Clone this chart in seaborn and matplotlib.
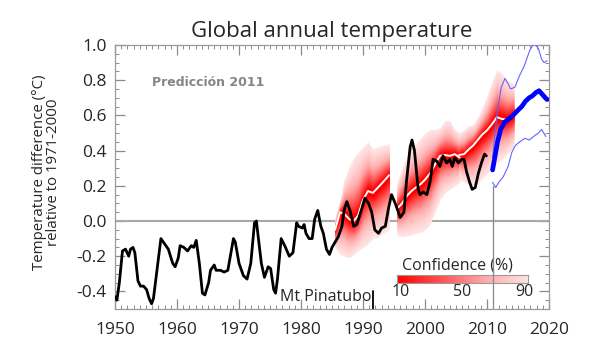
import numpy as np
import matplotlib
matplotlib.use("Agg")
import matplotlib.pyplot as plt
from matplotlib.colors import LinearSegmentedColormap
from matplotlib.ticker import MultipleLocator
import seaborn as sns

# observed global temperature (smoothed), anomaly vs 1971-2000
obs_years = [1950.0, 1950.3, 1950.7, 1951.2, 1951.7, 1952.2, 1952.5, 1952.9, 1953.2, 1953.7,
             1954.1, 1954.6, 1955.1, 1955.5, 1955.9, 1956.2, 1956.8, 1957.4, 1958.0, 1958.6,
             1959.3, 1959.7, 1960.2, 1960.5, 1961.1, 1961.7, 1962.3, 1962.7, 1963.1, 1963.6,
             1964.1, 1964.5, 1965.1, 1965.4, 1966.0, 1966.3, 1967.0, 1967.6, 1968.2, 1968.5,
             1969.1, 1969.4, 1970.0, 1970.7, 1971.3, 1971.9, 1972.5, 1972.8, 1973.1, 1973.6,
             1974.1, 1974.7, 1975.1, 1975.6, 1975.9, 1976.2, 1976.8, 1977.5, 1978.1, 1978.7,
             1979.3, 1979.6, 1980.2, 1980.5, 1980.8, 1981.3, 1981.8, 1982.2, 1982.7, 1983.2,
             1983.6, 1984.1, 1984.6, 1985.0, 1985.5, 1986.0, 1986.6, 1987.0, 1987.4, 1987.9,
             1988.5, 1989.0, 1989.8, 1990.3, 1990.9, 1991.4, 1991.9, 1992.5, 1993.0, 1993.6,
             1994.1, 1994.6, 1995.2, 1996.0, 1996.6, 1997.0, 1997.6, 1997.9, 1998.3, 1998.9,
             1999.2, 1999.7, 2000.3, 2000.8, 2001.3, 2001.9, 2002.4, 2002.9, 2003.5, 2004.0,
             2004.4, 2004.8, 2005.4, 2005.9, 2006.3, 2006.7, 2007.2, 2007.6, 2008.1, 2008.6,
             2009.1, 2009.6, 2009.9]
obs_temp = [-0.43, -0.45, -0.35, -0.17, -0.16, -0.20, -0.16, -0.15, -0.18, -0.34,
            -0.37, -0.37, -0.39, -0.44, -0.47, -0.44, -0.27, -0.10, -0.13, -0.16,
            -0.24, -0.26, -0.21, -0.14, -0.15, -0.17, -0.14, -0.15, -0.11, -0.24,
            -0.41, -0.42, -0.35, -0.28, -0.25, -0.28, -0.28, -0.29, -0.28, -0.22,
            -0.10, -0.12, -0.24, -0.31, -0.33, -0.24, -0.01, 0.00, -0.09, -0.24,
            -0.32, -0.26, -0.27, -0.39, -0.41, -0.33, -0.10, -0.15, -0.20, -0.18,
            -0.01, -0.03, -0.04, -0.02, -0.07, -0.10, -0.10, 0.01, 0.06, -0.03,
            -0.07, -0.16, -0.19, -0.15, -0.12, -0.09, -0.03, 0.07, 0.11, 0.06,
            -0.03, -0.02, 0.07, 0.13, 0.10, 0.05, -0.05, -0.07, -0.04, -0.03,
            0.07, 0.15, 0.10, 0.02, 0.05, 0.22, 0.42, 0.46, 0.40, 0.18,
            0.15, 0.165, 0.15, 0.22, 0.35, 0.34, 0.31, 0.37, 0.33, 0.35,
            0.31, 0.36, 0.33, 0.35, 0.35, 0.28, 0.22, 0.18, 0.19, 0.27,
            0.33, 0.38, 0.37]

# hindcasts: ensemble mean and 90% range
hc1_years = [1985.5, 1986.3, 1987.0, 1987.8, 1988.5, 1989.2, 1990.0, 1990.8, 1991.6, 1992.4, 1993.2, 1994.2]
hc1_mean = [-0.05, 0.05, 0.04, 0.01, 0.00, 0.03, 0.12, 0.17, 0.16, 0.19, 0.22, 0.26]
hc1_upper = [0.02, 0.12, 0.24, 0.31, 0.36, 0.39, 0.42, 0.45, 0.41, 0.42, 0.43, 0.44]
hc1_lower = [-0.15, -0.19, -0.20, -0.21, -0.19, -0.17, -0.15, -0.13, -0.10, -0.09, -0.07, -0.05]

hc2_years = [1995.5, 1996.3, 1997.0, 1997.8, 1998.5, 1999.3, 2000.0, 2000.8, 2001.6, 2002.4, 2003.2, 2004.0, 2004.8, 2005.6]
hc2_mean = [0.07, 0.10, 0.14, 0.17, 0.19, 0.21, 0.235, 0.27, 0.32, 0.37, 0.375, 0.37, 0.38, 0.36]
hc2_upper = [0.22, 0.30, 0.36, 0.42, 0.44, 0.47, 0.50, 0.52, 0.52, 0.53, 0.57, 0.57, 0.52, 0.50]
hc2_lower = [-0.08, -0.09, -0.085, -0.08, -0.07, -0.065, -0.05, -0.02, 0.05, 0.12, 0.16, 0.18, 0.20, 0.22]

hc3_years = [2005.5, 2006.3, 2007.0, 2007.8, 2008.5, 2009.2, 2010.0, 2010.8, 2011.6, 2012.4, 2013.2, 2014.3]
hc3_mean = [0.375, 0.38, 0.405, 0.43, 0.46, 0.49, 0.515, 0.55, 0.59, 0.58, 0.575, 0.60]
hc3_upper = [0.50, 0.52, 0.54, 0.55, 0.59, 0.64, 0.71, 0.79, 0.86, 0.84, 0.80, 0.78]
hc3_lower = [0.24, 0.22, 0.21, 0.20, 0.21, 0.24, 0.27, 0.30, 0.33, 0.35, 0.38, 0.42]

# 2011 forecast
fc_years = [2010.9, 2011.3, 2011.7, 2012.2, 2012.8, 2013.5, 2014.2, 2015.0, 2015.6, 2016.2,
            2016.8, 2017.3, 2017.9, 2018.4, 2018.9, 2019.4, 2019.7]
fc_mean = [0.29, 0.37, 0.45, 0.52, 0.56, 0.58, 0.60, 0.63, 0.65, 0.68,
           0.70, 0.71, 0.73, 0.74, 0.72, 0.70, 0.69]
fc_up_years = [2010.9, 2011.3, 2011.7, 2012.3, 2012.9, 2013.4, 2013.8, 2014.5, 2015.3, 2016.0,
               2016.9, 2017.6, 2018.3, 2018.8, 2019.2, 2019.7]
fc_upper = [0.36, 0.50, 0.63, 0.76, 0.81, 0.78, 0.75, 0.76, 0.83, 0.88,
            0.97, 1.01, 0.98, 0.92, 0.90, 0.91]
fc_lo_years = [2010.9, 2011.4, 2011.9, 2012.6, 2013.4, 2014.0, 2014.6, 2015.3, 2016.1, 2016.8,
               2017.5, 2018.3, 2018.8, 2019.5]
fc_lower = [0.22, 0.19, 0.22, 0.25, 0.31, 0.39, 0.43, 0.45, 0.47, 0.46,
            0.48, 0.50, 0.52, 0.48]

# normal quantile of central intervals, relative to the 90% interval
conf_table = [10, 20, 30, 40, 50, 60, 70, 80, 90]
conf_table_scale = [0.076, 0.154, 0.234, 0.319, 0.410, 0.512, 0.630, 0.779, 1.0]
conf_ticks = [10, 50, 90]

sns.set_style("ticks")
plt.rcParams["font.family"] = ["Open Sans", "DejaVu Sans"]

conf_cmap = LinearSegmentedColormap.from_list("conf", ["#ff0000", "#ff5252", "#ffa8a8", "#ffe4e4"])

fig = plt.figure(figsize=(6, 3.53), dpi=100)
ax = fig.add_axes([0.1917, 0.1246, 0.7233, 0.748])

# hindcast fans, drawn from the widest (palest) to the narrowest (reddest)
levels = np.linspace(90, 4, 44)
for yrs, mn, up, lo in [(hc1_years, hc1_mean, hc1_upper, hc1_lower),
                        (hc2_years, hc2_mean, hc2_upper, hc2_lower),
                        (hc3_years, hc3_mean, hc3_upper, hc3_lower)]:
    yrs, mn, up, lo = map(np.array, (yrs, mn, up, lo))
    for lev in levels:
        s = np.interp(lev, conf_table, conf_table_scale, left=0.03)
        c = conf_cmap(np.clip((lev - 10) / 80, 0, 1))
        ax.fill_between(yrs, mn - s * (mn - lo), mn + s * (up - mn), color=c, lw=0, zorder=2)
    sns.lineplot(x=yrs, y=mn, ax=ax, color="white", lw=1.4, zorder=3)

ax.axhline(0, color="#a8a8a8", lw=1.5, zorder=1)

sns.lineplot(x=obs_years, y=obs_temp, ax=ax, color="black", lw=2.0, zorder=4)

sns.lineplot(x=fc_up_years, y=fc_upper, ax=ax, color="#6464ff", lw=0.8, zorder=4)
sns.lineplot(x=fc_lo_years, y=fc_lower, ax=ax, color="#6464ff", lw=0.8, zorder=4)
sns.lineplot(x=fc_years, y=fc_mean, ax=ax, color="#0000ff", lw=3.4, zorder=5)

ax.plot([2010.9, 2010.9], [-0.5, 0.2], color="#888888", lw=0.9, zorder=6)

ax.set_xlim(1950, 2020)
ax.set_ylim(-0.5, 1.0)
ax.xaxis.set_major_locator(MultipleLocator(10))
ax.xaxis.set_minor_locator(MultipleLocator(1))
ax.yaxis.set_major_locator(MultipleLocator(0.2))
ax.yaxis.set_minor_locator(MultipleLocator(0.05))
ax.yaxis.set_major_formatter(matplotlib.ticker.FormatStrFormatter("%.1f"))
ax.tick_params(which="both", direction="in", top=True, right=True, color="#8c8c8c", labelsize=12.5)
ax.tick_params(which="major", length=7, width=0.9)
ax.tick_params(which="minor", length=3, width=0.7)
ax.tick_params(axis="x", pad=9)
ax.tick_params(axis="y", pad=6)
for sp in ax.spines.values():
    sp.set_color("#9a9a9a")
    sp.set_linewidth(0.9)

ax.set_title("Global annual temperature", fontsize=16, pad=6)
fig.text(0.077, 0.512, "Temperature difference (\u00b0C)\nrelative to 1971-2000", rotation=90,
         ha="center", va="center", fontsize=10.8, linespacing=0.92)

ax.text(1956.0, 0.785, "Predicción 2011", color="#858585", fontsize=9, fontweight="bold",
        family="DejaVu Sans", va="center")
ax.text(1976.6, -0.43, "Mt Pinatubo", fontsize=11.5, va="center")
ax.plot([1991.6, 1991.6], [-0.40, -0.50], color="black", lw=1.3, zorder=6)

# confidence colour bar
cax = ax.inset_axes([1995.5, -0.352, 21.1, 0.048], transform=ax.transData)
cax.imshow(np.linspace(0, 1, 256)[None, :], cmap=conf_cmap, aspect="auto", extent=[10, 90, 0, 1])
cax.set_xticks([])
cax.set_yticks([])
for sp in cax.spines.values():
    sp.set_color("#9a9a9a")
    sp.set_linewidth(0.8)
ax.text(2005.2, -0.255, "Confidence (%)", fontsize=11.5, ha="center", va="center")
for t in conf_ticks:
    ax.text(1995.5 + 21.1 * (0.03 + 0.94 * (t - 10) / 80), -0.405, str(t), fontsize=11.5,
            ha="center", va="center")

fig.savefig("out.png", dpi=100, facecolor="white")
